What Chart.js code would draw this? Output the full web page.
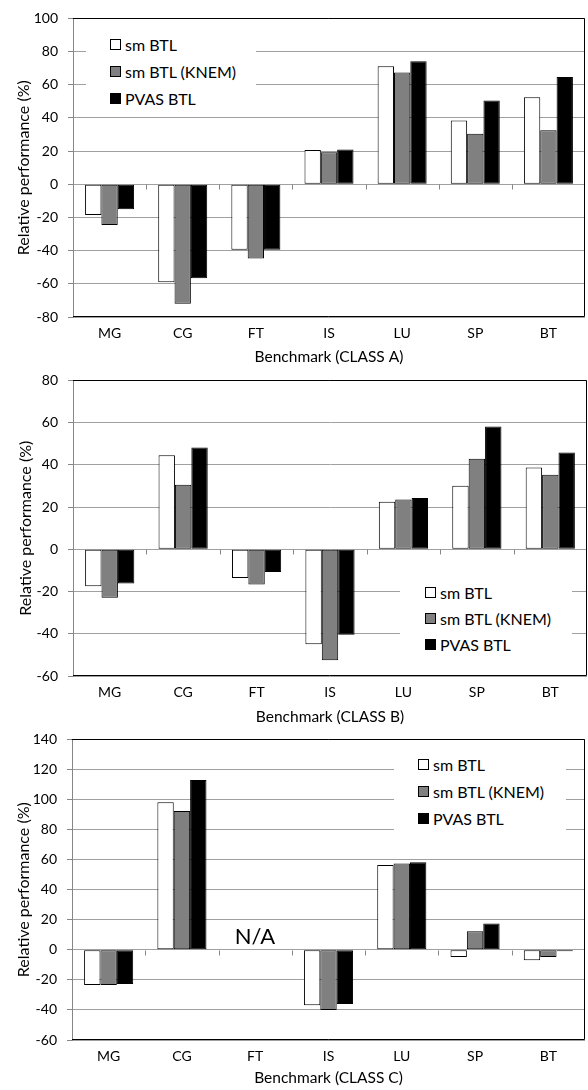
<!DOCTYPE html>
<html>
<head>
<meta charset="utf-8">
<script src="https://cdn.jsdelivr.net/npm/chart.js@4.4.1/dist/chart.umd.min.js"></script>
<style>
  body { margin: 0; background: #fff; width: 588px; height: 1090px; overflow: hidden; position: relative; font-family: Lato, sans-serif; }
  .wrap { position: absolute; left: 0; width: 588px; }
  .legend { position: absolute; background: #fff; font-size: 16px; color: #000; box-sizing: border-box; }
  .legend .row { display: flex; align-items: center; }
  .legend .box { width: 9px; height: 9px; border: 1px solid #000; margin-right: 4px; }
  .na { position: absolute; font-size: 22px; transform: translate(-50%, -50%); }
</style>
</head>
<body>
<div class="wrap" style="top:0px;height:367px"><canvas id="chartA"></canvas></div>
<div class="wrap" style="top:362px;height:364px"><canvas id="chartB"></canvas></div>
<div class="wrap" style="top:721px;height:369px"><canvas id="chartC"></canvas></div>

<div class="legend" id="legA" style="left:86px;top:31px;width:170px;height:80px;padding-left:24px"></div>
<div class="legend" id="legB" style="left:400px;top:579px;width:172px;height:80px;padding-left:25px"></div>
<div class="legend" id="legC" style="left:394px;top:751px;width:172px;height:80px;padding-left:24px"></div>
<div class="na" style="left:255px;top:935px">N/A</div>

<script>
// NPB benchmarks, relative performance (%)
const benchmarks = ['MG', 'CG', 'FT', 'IS', 'LU', 'SP', 'BT'];
const seriesNames = ['sm BTL', 'sm BTL (KNEM)', 'PVAS BTL'];
const seriesColors = ['#ffffff', '#808080', '#000000'];

// CLASS A
const smA   = [-18.5, -59, -39.5, 20.7, 71.2, 38.4, 52.4];
const knemA = [-24.5, -72, -44.7, 19.3, 67.4, 30.4, 32.6];
const pvasA = [-15, -56.6, -39.5, 20.9, 74.1, 50.5, 64.6];
const ticksA = [-80, -60, -40, -20, 0, 20, 40, 60, 80, 100];

// CLASS B
const smB   = [-17.5, 44.6, -13.6, -45, 22.5, 30.1, 38.8];
const knemB = [-22.9, 30.6, -16.7, -52.5, 23.6, 42.9, 35.3];
const pvasB = [-16.2, 48.2, -10.8, -40.5, 24.3, 58.2, 45.8];
const ticksB = [-60, -40, -20, 0, 20, 40, 60, 80];

// CLASS C (FT not available)
const smC   = [-23.4, 98.2, null, -36.8, 56.5, -4.8, -7];
const knemC = [-23.4, 92.3, null, -40.1, 57.4, 12.3, -4.8];
const pvasC = [-22.8, 113, null, -36.1, 58.3, 17.5, -0.9];
const ticksC = [-60, -40, -20, 0, 20, 40, 60, 80, 100, 120, 140];

// black frame on top/right/bottom plus little ticks hanging off the zero line
const framePlugin = {
    id: 'frame',
    afterDatasetsDraw(chart) {
        const {ctx, chartArea: a, scales: {x, y}} = chart;
        ctx.save();
        const y0 = Math.round(y.getPixelForValue(0)) + 0.5;
        ctx.strokeStyle = '#868686';
        ctx.lineWidth = 1;
        ctx.beginPath();
        for (let i = 1; i < benchmarks.length; i++) {
            const px = Math.round(x.getPixelForValue(i - 0.5)) + 0.5;
            ctx.moveTo(px, y0);
            ctx.lineTo(px, y0 + 5);
        }
        ctx.stroke();
        ctx.strokeStyle = '#000';
        ctx.beginPath();
        ctx.moveTo(a.left, Math.round(a.top) + 0.5);
        ctx.lineTo(Math.round(a.right) - 0.5, Math.round(a.top) + 0.5);
        ctx.lineTo(Math.round(a.right) - 0.5, Math.round(a.bottom) - 0.5);
        ctx.lineTo(a.left, Math.round(a.bottom) - 0.5);
        ctx.stroke();
        ctx.restore();
    }
};

function makeLegend(id) {
    const el = document.getElementById(id);
    seriesNames.forEach((name, i) => {
        const row = document.createElement('div');
        row.className = 'row';
        row.style.height = el.dataset.row || '27px';
        const box = document.createElement('span');
        box.className = 'box';
        box.style.background = seriesColors[i];
        row.appendChild(box);
        row.appendChild(document.createTextNode(name));
        el.appendChild(row);
    });
}

function createChart(id, s1, s2, s3, ticks, label, o) {
    const values = [s1, s2, s3];
    return new Chart(document.getElementById(id), {
        type: 'bar',
        data: {
            labels: benchmarks,
            datasets: seriesNames.map((name, i) => ({
                label: name,
                data: values[i],
                backgroundColor: seriesColors[i],
                borderColor: '#000',
                borderWidth: 1,
                borderSkipped: false,
                categoryPercentage: 0.67,
                barPercentage: 1.0
            }))
        },
        options: {
            responsive: true,
            maintainAspectRatio: false,
            animation: false,
            layout: { padding: { top: 15, right: o.right, left: 0, bottom: 0 } },
            scales: {
                x: {
                    grid: { display: false, drawTicks: false },
                    border: { display: false },
                    ticks: { color: '#000', padding: 8, font: { family: 'Lato', size: 14 } },
                    title: {
                        display: true,
                        text: label,
                        color: '#000',
                        font: { family: 'Lato', size: 15.5 },
                        padding: { top: 0, bottom: o.xTitlePad }
                    },
                    afterFit: s => { s.height = 50; }
                },
                y: {
                    min: ticks[0],
                    max: ticks[ticks.length - 1],
                    afterBuildTicks: s => { s.ticks = ticks.map(v => ({ value: v })); },
                    grid: { color: '#a0a0a0', tickColor: '#868686', tickLength: 5 },
                    border: { color: '#868686' },
                    ticks: { color: '#000', padding: 10, font: { family: 'Lato', size: 14 } },
                    title: {
                        display: true,
                        text: 'Relative performance (%)',
                        color: '#000',
                        font: { family: 'Lato', size: 16 },
                        padding: { top: o.yTitlePad, bottom: 0 }
                    },
                    afterFit: s => { s.width = o.yWidth; }
                }
            },
            plugins: {
                legend: { display: false },
                tooltip: { enabled: false }
            }
        },
        plugins: [framePlugin]
    });
}

document.getElementById('legB').dataset.row = '26px';
makeLegend('legA');
makeLegend('legB');
makeLegend('legC');

createChart('chartA', smA, knemA, pvasA, ticksA, 'Benchmark (CLASS A)', { right: 3, xTitlePad: 1, yTitlePad: 14.5, yWidth: 73 });
createChart('chartB', smB, knemB, pvasB, ticksB, 'Benchmark (CLASS B)', { right: 1, xTitlePad: 0, yTitlePad: 16.5, yWidth: 73 });
createChart('chartC', smC, knemC, pvasC, ticksC, 'Benchmark (CLASS C)', { right: 3, xTitlePad: 3, yTitlePad: 14.5, yWidth: 72 });
</script>
</body>
</html>
